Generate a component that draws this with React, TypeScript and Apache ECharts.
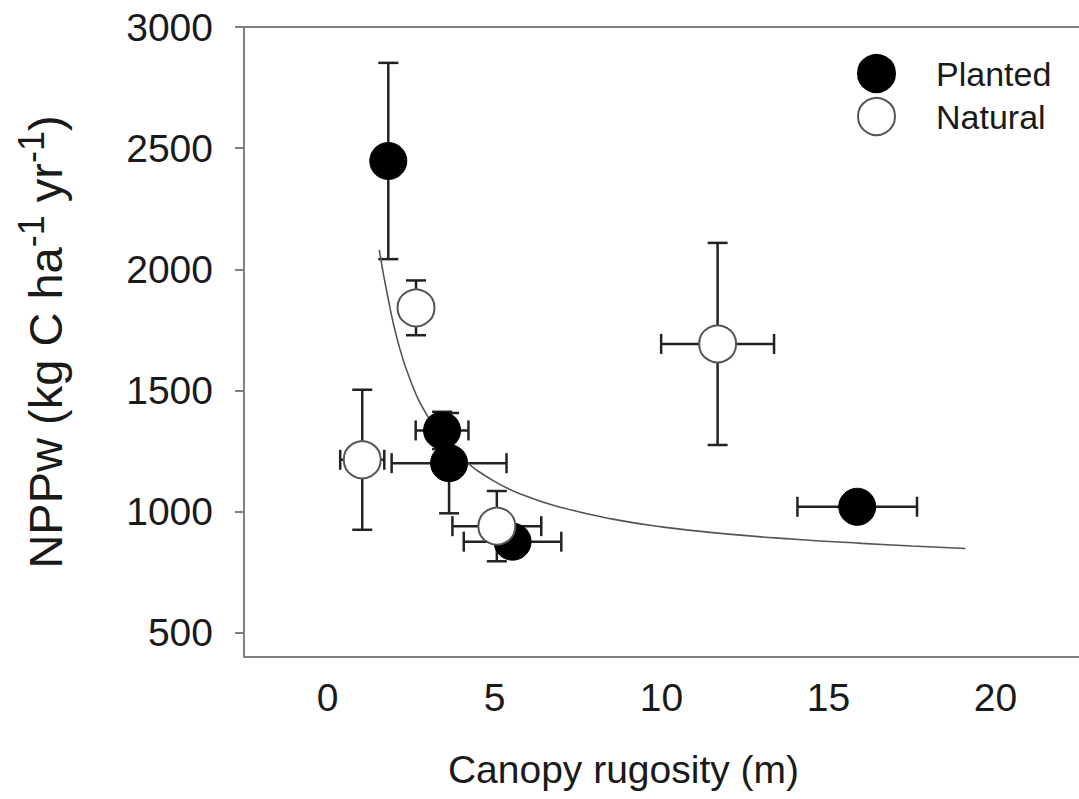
import React, { useEffect, useRef } from "react";
import * as echarts from "echarts";

// Planted stands: canopy rugosity (m), NPPw, x error, y error
const plantedX = [1.82, 3.43, 3.64, 5.54, 15.86];
const plantedY = [2447, 1335, 1200, 876, 1020];
const plantedXErr = [0, 0.79, 1.72, 1.46, 1.79];
const plantedYErr = [405, 77, 207, 62, 0];

// Natural stands
const naturalX = [1.04, 2.65, 5.07, 11.68];
const naturalY = [1214, 1841, 940, 1692];
const naturalXErr = [0.66, 0, 1.33, 1.69];
const naturalYErr = [289, 113, 145, 417];

// Fitted curve, points
const curveX = [1.55, 1.8, 2.1, 2.5, 3.0, 3.5, 4.0, 5.0, 6.0, 7.0, 8.5, 10, 12, 14, 16, 17.5, 19.1];
const curveY = [2080, 1890, 1705, 1535, 1393, 1295, 1223, 1125, 1061, 1017, 970, 937, 907, 886, 869, 858, 848];

const xTicks = [0, 5, 10, 15, 20];
const yTicks = [500, 1000, 1500, 2000, 2500, 3000];

const FONT = "'Liberation Sans', Arial, Helvetica, sans-serif";
const AXIS_COLOR = "#808080";

export default function App() {
  const ref = useRef<HTMLDivElement>(null);

  useEffect(() => {
    if (!ref.current) return;
    const chart = echarts.init(ref.current, null, { renderer: "svg" });

    const errData: number[][] = [];
    plantedX.forEach((x, i) => errData.push([x, plantedY[i], plantedXErr[i], plantedYErr[i]]));
    naturalX.forEach((x, i) => errData.push([x, naturalY[i], naturalXErr[i], naturalYErr[i]]));

    const cap = 10;
    const barStyle = { stroke: "#222", lineWidth: 2.5 };

    const option: any = {
      animation: false,
      backgroundColor: "#fff",
      textStyle: { fontFamily: FONT },
      grid: {
        left: 244,
        top: 27,
        width: 839,
        height: 630,
        show: false,
      },
      legend: {
        left: 852,
        top: 49,
        orient: "vertical",
        itemWidth: 37,
        itemHeight: 37,
        itemGap: 4,
        icon: "circle",
        textStyle: { fontSize: 34, color: "#1a1a1a", fontFamily: FONT, padding: [0, 0, 0, 36] },
        data: ["Planted", "Natural"],
      },
      xAxis: [
        {
          type: "value",
          min: -2.5,
          max: 22.5,
          interval: 2.5,
          splitLine: { show: false },
          axisLine: { onZero: false, lineStyle: { color: AXIS_COLOR, width: 2 } },
          axisTick: { show: false },
          axisLabel: {
            fontSize: 39,
            color: "#1a1a1a",
            fontFamily: FONT,
            margin: 21,
            customValues: xTicks,
            formatter: (v: number) => (xTicks.indexOf(v) >= 0 ? String(v) : ""),
          },
          name: "Canopy rugosity (m)",
          nameLocation: "middle",
          nameGap: 93,
          nameTextStyle: { fontSize: 39, color: "#1a1a1a", fontFamily: FONT, padding: [0, 76, 0, 0] },
        },
        {
          type: "value",
          position: "top",
          min: -2.5,
          max: 22.5,
          interval: 2.5,
          splitLine: { show: false },
          axisLine: { show: true, onZero: false, lineStyle: { color: AXIS_COLOR, width: 2 } },
          axisTick: { show: false },
          axisLabel: { show: false },
        },
      ],
      yAxis: {
        type: "value",
        min: 400,
        max: 3000,
        splitLine: { show: false },
        axisLine: { onZero: false, lineStyle: { color: AXIS_COLOR, width: 2 } },
        axisTick: { show: true, length: 9, lineStyle: { color: AXIS_COLOR, width: 2 }, customValues: yTicks },
        axisLabel: {
          fontSize: 39,
          color: "#1a1a1a",
          fontFamily: FONT,
          margin: 31,
          customValues: yTicks,
          formatter: (v: number) => String(v),
        },
        name: "{a|NPPw (kg C ha}{s|-1}{a| yr}{s|-1}{a|)}",
        nameLocation: "middle",
        nameGap: 175,
        nameTextStyle: {
          color: "#1a1a1a",
          fontFamily: FONT,
          rich: {
            a: { fontSize: 47, color: "#1a1a1a", fontFamily: FONT, lineHeight: 56, verticalAlign: "bottom" },
            s: { fontSize: 36, color: "#1a1a1a", fontFamily: FONT, lineHeight: 56, verticalAlign: "top" },
          },
        },
      },
      series: [
        {
          type: "custom",
          name: "errors",
          z: 1,
          silent: true,
          data: errData,
          encode: { x: 0, y: 1 },
          renderItem: (params: any, api: any) => {
            const x = api.value(0);
            const y = api.value(1);
            const ex = api.value(2);
            const ey = api.value(3);
            const children: any[] = [];
            if (ey > 0) {
              const t = api.coord([x, y + ey]);
              const b = api.coord([x, y - ey]);
              children.push({ type: "line", shape: { x1: t[0], y1: t[1], x2: b[0], y2: b[1] }, style: barStyle });
              children.push({ type: "line", shape: { x1: t[0] - cap, y1: t[1], x2: t[0] + cap, y2: t[1] }, style: barStyle });
              children.push({ type: "line", shape: { x1: b[0] - cap, y1: b[1], x2: b[0] + cap, y2: b[1] }, style: barStyle });
            }
            if (ex > 0) {
              const l = api.coord([x - ex, y]);
              const r = api.coord([x + ex, y]);
              children.push({ type: "line", shape: { x1: l[0], y1: l[1], x2: r[0], y2: r[1] }, style: barStyle });
              children.push({ type: "line", shape: { x1: l[0], y1: l[1] - cap, x2: l[0], y2: l[1] + cap }, style: barStyle });
              children.push({ type: "line", shape: { x1: r[0], y1: r[1] - cap, x2: r[0], y2: r[1] + cap }, style: barStyle });
            }
            return { type: "group", children };
          },
        },
        {
          type: "line",
          name: "fit",
          z: 2,
          smooth: true,
          showSymbol: false,
          silent: true,
          lineStyle: { color: "#555", width: 1.6 },
          data: curveX.map((x, i) => [x, curveY[i]]),
        },
        {
          type: "scatter",
          name: "Planted",
          z: 3,
          symbol: "circle",
          symbolSize: 37,
          itemStyle: { color: "#000", borderColor: "#000", borderWidth: 1, opacity: 1 },
          data: plantedX.map((x, i) => [x, plantedY[i]]),
        },
        {
          type: "scatter",
          name: "Natural",
          z: 4,
          symbol: "circle",
          symbolSize: 37,
          itemStyle: { color: "#fff", borderColor: "#555", borderWidth: 2, opacity: 1 },
          data: naturalX.map((x, i) => [x, naturalY[i]]),
        },
      ],
    };

    chart.setOption(option);
    return () => chart.dispose();
  }, []);

  return (
    <div
      ref={ref}
      style={{ position: "fixed", left: 0, top: 0, width: 1079, height: 799, background: "#fff" }}
    />
  );
}
